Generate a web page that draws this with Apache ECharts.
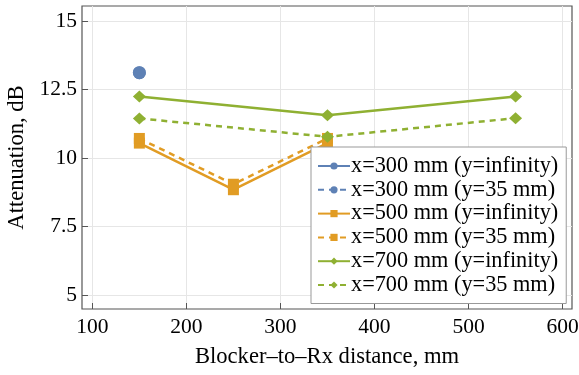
<!DOCTYPE html>
<html>
<head>
<meta charset="utf-8">
<script src="https://cdn.jsdelivr.net/npm/echarts@6/dist/echarts.min.js"></script>
<style>html,body{margin:0;padding:0;background:#fff;}#c{width:579px;height:375px;}</style>
</head>
<body>
<div id="c"></div>
<script>
const distances = [150, 250, 350, 550];
const x300Inf = [[150, 13.12]];
const x300Y35 = [[150, 13.12]];
const x500Inf = [[150, 10.55], [250, 8.85], [350, 10.55]];
const x500Y35 = [[150, 10.72], [250, 9.05], [350, 10.72]];
const x700Inf = [[150, 12.25], [350, 11.57], [550, 12.25]];
const x700Y35 = [[150, 11.45], [350, 10.78], [550, 11.46]];
const xTicks = [100, 200, 300, 400, 500, 600];
const yTicks = [5, 7.5, 10, 12.5, 15];
const seriesNames = ['x=300 mm (y=infinity)', 'x=300 mm (y=35 mm)', 'x=500 mm (y=infinity)', 'x=500 mm (y=35 mm)', 'x=700 mm (y=infinity)', 'x=700 mm (y=35 mm)'];

const BLUE = '#5e81b5', ORANGE = '#e19c24', GREEN = '#8fb032';
const FONT = '"Liberation Serif", "DejaVu Serif", serif';

function mk(name, data, color, dashed, symbol, size) {
  return {
    name: name, type: 'line', data: data,
    symbol: symbol, symbolSize: size,
    itemStyle: { color: color },
    lineStyle: { color: color, width: 2.5, type: dashed ? [6, 5] : 'solid' },
    emphasis: { disabled: true },
    animation: false
  };
}

const chart = echarts.init(document.getElementById('c'), null, { renderer: 'canvas' });
chart.setOption({
  animation: false,
  backgroundColor: '#fff',
  grid: { left: 82, right: 7, top: 6, bottom: 66, show: true, borderColor: '#555', borderWidth: 1.2, backgroundColor: 'transparent', containLabel: false, outerBoundsMode: 'none' },
  xAxis: {
    type: 'value', min: 89, max: 610,
    name: 'Blocker\u2013to\u2013Rx distance, mm', nameLocation: 'middle', nameGap: 37,
    nameTextStyle: { fontFamily: FONT, fontSize: 22.6, color: '#000' },
    axisLine: { show: false },
    axisTick: { show: true, inside: true, length: 6, customValues: xTicks, lineStyle: { color: '#555' } },
    axisLabel: { customValues: xTicks, fontFamily: FONT, fontSize: 21.5, color: '#000', margin: 7 },
    splitLine: { show: true, lineStyle: { color: '#e6e6e6', width: 1 } }
  },
  yAxis: {
    type: 'value', min: 4.5, max: 15.55,
    name: 'Attenuation, dB', nameLocation: 'middle', nameGap: 51,
    nameTextStyle: { fontFamily: FONT, fontSize: 22.6, color: '#000' },
    axisLine: { show: false },
    axisTick: { show: true, inside: true, length: 6, customValues: yTicks, lineStyle: { color: '#555' } },
    axisLabel: { customValues: yTicks, fontFamily: FONT, fontSize: 21.5, color: '#000', margin: 5,
      formatter: function (v) { return String(v); } },
    splitLine: { show: true, lineStyle: { color: '#e6e6e6', width: 1 } }
  },
  legend: {
    orient: 'vertical', left: 311, top: 147, width: 257,
    padding: [7.5, 8, 7, 6],
    backgroundColor: '#fff', borderColor: '#999', borderWidth: 1,
    itemWidth: 32, itemHeight: 9, itemGap: 0.8,
    textStyle: { fontFamily: FONT, fontSize: 22.3, color: '#000', lineHeight: 23, padding: [0, 0, 0, -4] },
    data: seriesNames
  },
  series: [
    mk(seriesNames[0], x300Inf, BLUE, false, 'circle', 13),
    mk(seriesNames[1], x300Y35, BLUE, true, 'circle', 13),
    mk(seriesNames[2], x500Inf, ORANGE, false, 'rect', 11),
    mk(seriesNames[3], x500Y35, ORANGE, true, 'rect', 11),
    mk(seriesNames[4], x700Inf, GREEN, false, 'diamond', [13, 12]),
    mk(seriesNames[5], x700Y35, GREEN, true, 'diamond', [13, 12])
  ]
});
</script>
</body>
</html>
